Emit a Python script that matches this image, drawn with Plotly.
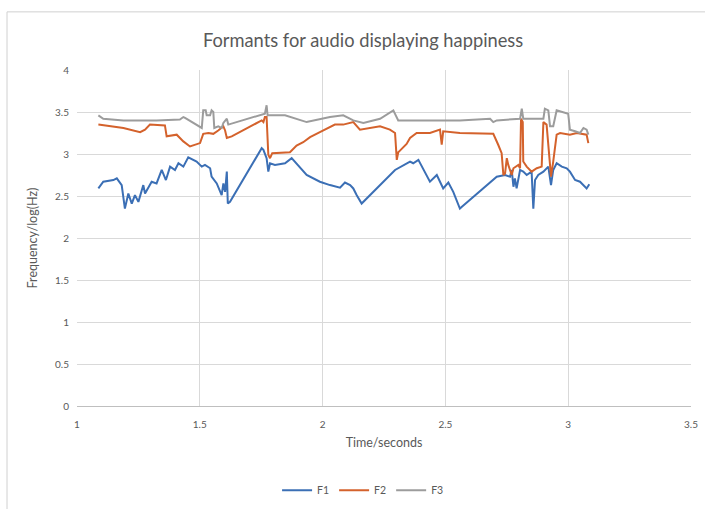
import plotly.graph_objects as go

# Formant tracks (log10 of frequency in Hz) against time in seconds
t1 = [1.087, 1.107, 1.148, 1.162, 1.182, 1.195, 1.209, 1.223, 1.236, 1.250,
      1.270, 1.277, 1.304, 1.324, 1.345, 1.362, 1.379, 1.399, 1.413, 1.433,
      1.453, 1.487, 1.508, 1.521, 1.542, 1.548, 1.569, 1.582, 1.589, 1.596,
      1.603, 1.610, 1.614, 1.623, 1.752, 1.759, 1.772, 1.779, 1.786, 1.806,
      1.847, 1.874, 1.935, 1.989, 2.030, 2.071, 2.091, 2.112, 2.125, 2.139,
      2.159, 2.295, 2.329, 2.356, 2.369, 2.390, 2.437, 2.465, 2.491, 2.512,
      2.532, 2.559, 2.566, 2.709, 2.743, 2.763, 2.770, 2.777, 2.783, 2.790,
      2.804, 2.817, 2.831, 2.851, 2.858, 2.865, 2.878, 2.899, 2.919, 2.930,
      2.939, 2.953, 2.974, 2.994, 3.007, 3.028, 3.048, 3.062, 3.075, 3.086]
f1 = [2.59, 2.67, 2.69, 2.71, 2.63, 2.35, 2.53, 2.41, 2.51, 2.43,
      2.63, 2.53, 2.67, 2.65, 2.81, 2.69, 2.85, 2.81, 2.89, 2.85,
      2.96, 2.91, 2.85, 2.87, 2.83, 2.73, 2.65, 2.55, 2.51, 2.65,
      2.55, 2.79, 2.41, 2.43, 3.07, 3.05, 2.95, 2.79, 2.89, 2.87,
      2.89, 2.95, 2.75, 2.67, 2.63, 2.60, 2.66, 2.63, 2.59, 2.51,
      2.41, 2.81, 2.87, 2.91, 2.89, 2.93, 2.67, 2.75, 2.59, 2.66,
      2.55, 2.35, 2.37, 2.73, 2.75, 2.73, 2.81, 2.61, 2.71, 2.59,
      2.81, 2.79, 2.75, 2.79, 2.35, 2.69, 2.75, 2.79, 2.85, 2.63,
      2.81, 2.89, 2.85, 2.83, 2.79, 2.69, 2.67, 2.63, 2.59, 2.64]

t2 = [1.087, 1.134, 1.189, 1.257, 1.277, 1.297, 1.358, 1.365, 1.406, 1.433,
      1.460, 1.501, 1.508, 1.514, 1.535, 1.555, 1.575, 1.589, 1.596, 1.603,
      1.610, 1.630, 1.752, 1.759, 1.765, 1.772, 1.779, 1.786, 1.795, 1.867,
      1.881, 1.894, 1.921, 1.949, 1.989, 2.050, 2.084, 2.125, 2.152, 2.234,
      2.274, 2.295, 2.302, 2.308, 2.315, 2.342, 2.356, 2.383, 2.437, 2.478,
      2.485, 2.491, 2.559, 2.695, 2.715, 2.729, 2.736, 2.743, 2.750, 2.756,
      2.770, 2.777, 2.797, 2.804, 2.808, 2.815, 2.817, 2.831, 2.851, 2.872,
      2.892, 2.899, 2.912, 2.923, 2.930, 2.939, 2.953, 2.967, 3.007, 3.035,
      3.075, 3.082]
f2 = [3.35, 3.33, 3.31, 3.26, 3.29, 3.35, 3.34, 3.21, 3.23, 3.15,
      3.09, 3.13, 3.19, 3.24, 3.25, 3.24, 3.28, 3.31, 3.33, 3.28,
      3.19, 3.21, 3.40, 3.38, 3.44, 3.44, 2.99, 2.95, 3.01, 3.02,
      3.06, 3.10, 3.14, 3.20, 3.26, 3.35, 3.35, 3.38, 3.29, 3.33,
      3.29, 3.25, 2.93, 3.02, 3.04, 3.12, 3.19, 3.25, 3.25, 3.29,
      3.11, 3.27, 3.25, 3.24, 3.11, 3.01, 2.75, 2.77, 2.95, 2.87,
      2.75, 2.83, 2.87, 2.83, 3.42, 3.38, 2.91, 2.85, 2.79, 2.83,
      2.85, 3.38, 3.35, 2.91, 2.73, 2.91, 3.23, 3.25, 3.23, 3.25,
      3.23, 3.13]

t3 = [1.087, 1.107, 1.189, 1.324, 1.419, 1.433, 1.440, 1.508, 1.514, 1.524,
      1.528, 1.542, 1.548, 1.555, 1.559, 1.575, 1.589, 1.596, 1.610, 1.616,
      1.765, 1.772, 1.776, 1.847, 1.935, 2.030, 2.084, 2.125, 2.166, 2.234,
      2.288, 2.295, 2.308, 2.437, 2.559, 2.682, 2.695, 2.709, 2.804, 2.811,
      2.817, 2.899, 2.905, 2.919, 2.926, 2.939, 2.953, 3.000, 3.007, 3.028,
      3.048, 3.062, 3.075, 3.082]
f3 = [3.46, 3.42, 3.40, 3.40, 3.41, 3.44, 3.43, 3.31, 3.52, 3.52,
      3.46, 3.46, 3.52, 3.50, 3.31, 3.33, 3.31, 3.37, 3.42, 3.35,
      3.48, 3.58, 3.46, 3.46, 3.38, 3.44, 3.46, 3.40, 3.37, 3.42,
      3.52, 3.48, 3.40, 3.40, 3.40, 3.42, 3.38, 3.40, 3.42, 3.54,
      3.42, 3.42, 3.54, 3.52, 3.33, 3.33, 3.52, 3.48, 3.29, 3.27,
      3.25, 3.31, 3.29, 3.23]

series = [("F1", t1, f1, "#3B6FB5"), ("F2", t2, f2, "#D4622C"), ("F3", t3, f3, "#9C9C9C")]

x_ticks = [1, 1.5, 2, 2.5, 3, 3.5]
x_tick_text = ["1", "1.5", "2", "2.5", "3", "3.5"]
y_ticks = [0, 0.5, 1, 1.5, 2, 2.5, 3, 3.5, 4]
y_tick_text = ["0", "0.5", "1", "1.5", "2", "2.5", "3", "3.5", "4"]

FONT = "Lato, 'Open Sans', sans-serif"
TXT = "#595959"

fig = go.Figure()
for name, t, f, color in series:
    fig.add_trace(go.Scatter(x=t, y=f, mode="lines", name=name,
                             line=dict(color=color, width=2)))

fig.update_layout(
    width=705, height=509,
    margin=dict(l=77, r=14, t=70, b=103, autoexpand=False),
    paper_bgcolor="white", plot_bgcolor="white",
    font=dict(family=FONT, color=TXT, size=10),
    title=dict(text="Formants for audio displaying happiness",
               x=0.515, xref="container", xanchor="center",
               y=0.921, yref="container", yanchor="middle",
               font=dict(family=FONT, size=18.3, color=TXT)),
    xaxis=dict(range=[1, 3.5], tickvals=x_ticks, ticktext=x_tick_text,
               showgrid=True, gridcolor="#D9D9D9", gridwidth=1,
               zeroline=False, showline=True, linecolor="#BFBFBF", linewidth=1,
               ticks="", ticklabelstandoff=9, automargin=False,
               title=dict(text="Time/seconds", standoff=9,
                          font=dict(family=FONT, size=12.5, color=TXT))),
    yaxis=dict(range=[0, 4], tickvals=y_ticks, ticktext=y_tick_text,
               showgrid=True, gridcolor="#D9D9D9", gridwidth=1,
               zeroline=False, showline=False, ticks="", ticklabelstandoff=7,
               automargin=False,
               title=dict(text="Frequency/log(Hz)", standoff=14,
                          font=dict(family=FONT, size=12.5, color=TXT))),
    legend=dict(orientation="h", xref="container", x=0.515, xanchor="center",
                yref="container", y=0.037, yanchor="middle",
                font=dict(family=FONT, size=10.5, color=TXT),
                itemwidth=30, tracegroupgap=0),
    showlegend=True,
)

# chart-area border
fig.add_shape(type="rect", xref="paper", yref="paper",
              x0=-0.114, x1=1.2, y0=-0.35, y1=1.173,
              line=dict(color="#D0D0D0", width=1), fillcolor="rgba(0,0,0,0)",
              layer="below")

fig.write_html("out.html")
